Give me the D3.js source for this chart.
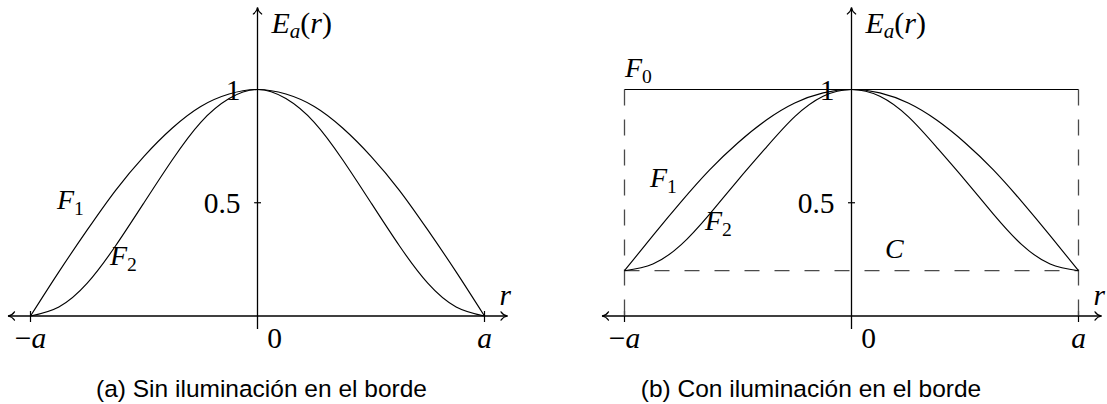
<!DOCTYPE html>
<html>
<head>
<meta charset="utf-8">
<script src="https://cdn.jsdelivr.net/npm/d3@7/dist/d3.min.js"></script>
<style>
  html, body { margin: 0; padding: 0; background: #fff; }
  svg { display: block; }
</style>
</head>
<body>
<svg id="fig" width="1107" height="404"></svg>
<script>
// Normalised radius r/a, sampled every a/8
const rGrid = [-1, -0.875, -0.75, -0.625, -0.5, -0.375, -0.25, -0.125, 0,
               0.125, 0.25, 0.375, 0.5, 0.625, 0.75, 0.875, 1];

// (a) no edge illumination
const f1Plain = [0, 0.195, 0.38, 0.555, 0.705, 0.83, 0.925, 0.98, 1,
                 0.98, 0.925, 0.83, 0.705, 0.555, 0.38, 0.195, 0];
const f2Plain = [0, 0.04, 0.145, 0.31, 0.5, 0.69, 0.855, 0.96, 1,
                 0.96, 0.855, 0.69, 0.5, 0.31, 0.145, 0.04, 0];

// (b) with edge illumination
const f1Edge = [0.2, 0.355, 0.505, 0.645, 0.765, 0.865, 0.94, 0.985, 1,
                0.985, 0.94, 0.865, 0.765, 0.645, 0.505, 0.355, 0.2];
const f2Edge = [0.2, 0.23, 0.315, 0.45, 0.6, 0.745, 0.88, 0.97, 1,
                0.97, 0.88, 0.745, 0.6, 0.45, 0.315, 0.23, 0.2];
const f0Level = 1;
const edgeLevel = 0.2;

// Tick labels
const yTickValues = [0.5, 1];
const yTickLabels = ["0.5", "1"];
const xTickValues = [-1, 1];
const xTickLabels = ["\u2212a", "a"];

const MATH_FONT = "'Liberation Serif', 'Times New Roman', 'DejaVu Serif', serif";
const TEXT_FONT = "'Liberation Sans', Arial, Helvetica, sans-serif";

const svg = d3.select("#fig");

// TikZ-style "to" arrow tip
const defs = svg.append("defs");
defs.append("marker")
  .attr("id", "tip")
  .attr("markerUnits", "userSpaceOnUse")
  .attr("viewBox", "-8 -6 10 12")
  .attr("refX", 0).attr("refY", 0)
  .attr("markerWidth", 10).attr("markerHeight", 12)
  .attr("orient", "auto-start-reverse")
  .append("path")
  .attr("d", "M -6.5,-4.2 C -4.8,-1.6 -1.8,-0.3 0,0 C -1.8,0.3 -4.8,1.6 -6.5,4.2")
  .attr("fill", "none").attr("stroke", "#000").attr("stroke-width", 1.2)
  .attr("stroke-linecap", "round");

function mathText(g, x, y, size) {
  return g.append("text")
    .attr("font-family", MATH_FONT)
    .attr("fill", "#000")
    .attr("x", x).attr("y", y).attr("font-size", size);
}

// Italic symbol with a subscript
function subText(g, x, y, base, sub, size) {
  const t = mathText(g, x, y, size);
  t.append("tspan").attr("font-style", "italic").text(base);
  t.append("tspan").attr("font-size", size * 0.7).attr("dy", size * 0.2)
    .attr("font-style", /[0-9]/.test(sub) ? "normal" : "italic").text(sub);
  return t;
}

function panel(opts) {
  const g = svg.append("g");
  const cx = opts.cx;
  const x = d3.scaleLinear().domain([-1, 1]).range([cx - 227, cx + 227]);
  const y = d3.scaleLinear().domain([0, 1]).range([316, 89.5]);
  const fs = 28;
  const nfs = 29.5;

  // Axes
  g.append("line")
    .attr("x1", cx - 249.5).attr("x2", cx + 250).attr("y1", y(0)).attr("y2", y(0))
    .attr("stroke", "#000").attr("stroke-width", 1.3)
    .attr("marker-start", "url(#tip)").attr("marker-end", "url(#tip)");
  g.append("line")
    .attr("x1", x(0)).attr("x2", x(0)).attr("y1", y(0) + 13).attr("y2", 7.5)
    .attr("stroke", "#000").attr("stroke-width", 1.3)
    .attr("marker-end", "url(#tip)");

  // x ticks at -a and a
  g.selectAll(".xt").data(xTickValues).join("line")
    .attr("x1", d => x(d)).attr("x2", d => x(d))
    .attr("y1", y(0) - 5).attr("y2", y(0) + 6)
    .attr("stroke", "#000").attr("stroke-width", 1.2);
  // y tick at 0.5
  g.append("line")
    .attr("x1", x(0) - 3.5).attr("x2", x(0) + 3.5)
    .attr("y1", y(0.5)).attr("y2", y(0.5))
    .attr("stroke", "#000").attr("stroke-width", 1.2);

  // Edge-illumination guides
  if (opts.edge) {
    g.selectAll(".vd").data([-1, 1]).join("line")
      .attr("x1", d => x(d)).attr("x2", d => x(d))
      .attr("y1", y(f0Level)).attr("y2", y(0) + 6)
      .attr("stroke", "#4a4a4a").attr("stroke-width", 1.3)
      .attr("stroke-dasharray", "16 14");
    g.append("line")
      .attr("x1", x(-1)).attr("x2", x(1)).attr("y1", y(edgeLevel)).attr("y2", y(edgeLevel))
      .attr("stroke", "#4a4a4a").attr("stroke-width", 1.3)
      .attr("stroke-dasharray", "15 15");
    g.append("line")
      .attr("x1", x(-1)).attr("x2", x(1)).attr("y1", y(f0Level)).attr("y2", y(f0Level))
      .attr("stroke", "#000").attr("stroke-width", 1.2);
  }

  // Curves
  const line = d3.line()
    .x((d, i) => x(rGrid[i]))
    .y(d => y(d))
    .curve(d3.curveNatural);
  [opts.f1, opts.f2].forEach(s => {
    g.append("path").attr("d", line(s))
      .attr("fill", "none").attr("stroke", "#000").attr("stroke-width", 1.15);
  });

  // y tick labels
  yTickValues.forEach((v, i) => {
    mathText(g, x(0) - 17, y(v) + 10, nfs)
      .attr("text-anchor", "end").text(yTickLabels[i]);
  });

  // x tick labels
  xTickValues.forEach((v, i) => {
    const lab = xTickLabels[i];
    const t = mathText(g, x(v), 348, nfs).attr("text-anchor", "middle");
    if (lab.startsWith("\u2212")) {
      t.append("tspan").text("\u2212");
      t.append("tspan").attr("font-style", "italic").text(lab.slice(1));
    } else {
      t.append("tspan").attr("font-style", "italic").text(lab);
    }
  });
  mathText(g, x(0) + 17, 348, nfs).attr("text-anchor", "middle").text("0");

  // Axis names
  mathText(g, x(0) + 242, 305, nfs).attr("font-style", "italic").text("r");
  const ea = mathText(g, x(0) + 14, 33, fs + 2);
  ea.append("tspan").attr("font-style", "italic").text("E");
  ea.append("tspan").attr("font-style", "italic").attr("font-size", (fs + 2) * 0.7)
    .attr("dy", 5).text("a");
  ea.append("tspan").attr("dy", -5).text("(");
  ea.append("tspan").attr("font-style", "italic").text("r");
  ea.append("tspan").text(")");

  // Curve labels
  opts.labels.forEach(l => subText(g, l.x, l.y, l.base, l.sub, fs));

  // Caption
  g.append("text")
    .attr("font-family", TEXT_FONT).attr("fill", "#000")
    .attr("font-size", 24.5)
    .attr("x", opts.capX).attr("y", 397)
    .attr("text-anchor", "middle")
    .text(opts.caption);
}

panel({
  cx: 257.5, edge: false, f1: f1Plain, f2: f2Plain,
  labels: [
    { base: "F", sub: "1", x: 57, y: 209 },
    { base: "F", sub: "2", x: 110, y: 265 }
  ],
  caption: "(a) Sin iluminación en el borde", capX: 261.5
});

panel({
  cx: 851.5, edge: true, f1: f1Edge, f2: f2Edge,
  labels: [
    { base: "F", sub: "0", x: 625, y: 77 },
    { base: "F", sub: "1", x: 650, y: 187 },
    { base: "F", sub: "2", x: 705, y: 230 }
  ],
  caption: "(b) Con iluminación en el borde", capX: 811
});

// Edge level label
mathText(svg, 885, 258, 28).attr("font-style", "italic").text("C");
</script>
</body>
</html>
